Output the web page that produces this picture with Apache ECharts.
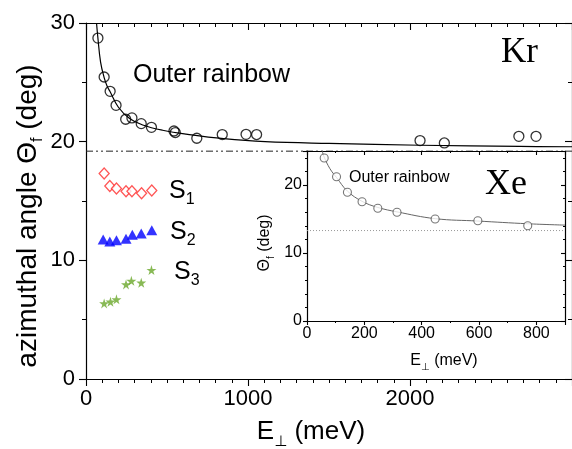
<!DOCTYPE html>
<html>
<head>
<meta charset="utf-8">
<script src="https://cdn.jsdelivr.net/npm/echarts@6/dist/echarts.min.js"></script>
<style>
  html, body { margin: 0; padding: 0; background: #fff; }
  #chart { width: 572px; height: 449px; }
</style>
</head>
<body>
<div id="chart"></div>
<script>
// Kr, outer rainbow (main panel)
var krE = [73.5, 112, 149, 185.5, 245, 283.5, 341, 404, 543, 551, 684, 841, 988, 1053, 2062, 2212, 2672, 2778];
var krTheta = [28.73, 25.45, 24.24, 23.06, 21.89, 22.0, 21.52, 21.21, 20.9, 20.77, 20.29, 20.6, 20.62, 20.6, 20.09, 19.89, 20.45, 20.45];
// fitted curve
var krFitE = [65, 73, 90, 112, 130, 149, 200, 269, 350, 473, 637, 850, 1106, 1500, 2062, 2678, 3000];
var krFitTheta = [30, 28.8, 26.7, 25.4, 24.7, 24.2, 22.9, 21.95, 21.4, 20.96, 20.6, 20.25, 20.0, 19.85, 19.7, 19.6, 19.57];
var krLimit = 19.2;

// supernumerary maxima
var s1E = [112, 147, 188, 247, 283.5, 343, 406];
var s1Theta = [17.31, 16.27, 16.05, 15.82, 15.82, 15.66, 15.88];
var s2E = [106, 147, 188, 247, 286, 341, 406];
var s2Theta = [11.76, 11.59, 11.70, 11.81, 12.15, 12.26, 12.54];
var s3E = [112, 151, 188, 247, 280, 341, 404];
var s3Theta = [6.37, 6.51, 6.71, 7.97, 8.27, 8.11, 9.18];

// Xe (inset)
var xeE = [60, 103, 141, 192, 247, 314, 447, 596, 770];
var xeTheta = [23.97, 21.22, 18.93, 17.54, 16.57, 15.99, 15.0, 14.75, 14.01];
var xeFitE = [53, 60, 80, 103, 141, 192, 247, 314, 447, 596, 770, 900];
var xeFitTheta = [25, 24.1, 22.4, 21.1, 19.1, 17.6, 16.7, 16.05, 15.05, 14.7, 14.3, 14.1];
var xeLimit = 13.3;

var mainXTicks = [0, 1000, 2000];
var mainYTicks = [0, 10, 20, 30];
var insetXTicks = [0, 200, 400, 600, 800];
var insetYTicks = [0, 10, 20];

var SANS = '"Liberation Sans", "DejaVu Sans", Arial, sans-serif';
var SERIF = '"Liberation Serif", "DejaVu Serif", serif';
var STAR = 'path://M50,0 L61,35 L98,35 L68,57 L79,91 L50,70 L21,91 L32,57 L2,35 L39,35 Z';

function pairs(xs, ys) {
    var out = [];
    for (var i = 0; i < xs.length; i++) out.push([xs[i], ys[i]]);
    return out;
}

function plain(v) { return String(v); }

function axis(opt) {
    var base = {
        type: 'value',
        splitLine: { show: false },
        axisLine: { show: true, onZero: false, lineStyle: { color: '#000', width: 1.2 } },
        axisTick: { show: true, inside: false, length: 7, lineStyle: { color: '#000', width: 1.1 } },
        minorTick: { show: true, length: 4, lineStyle: { color: '#000', width: 1 } },
        axisLabel: { color: '#000', fontFamily: SANS, formatter: plain }
    };
    return echarts.util.merge(base, opt, true);
}

// rich text with a subscript part
function subText(parts, big, small, lh) {
    return {
        a: { fontSize: big, fontFamily: SANS, lineHeight: lh },
        s: { fontSize: small, fontFamily: SANS, lineHeight: small, verticalAlign: 'bottom' }
    };
}

var chart = echarts.init(document.getElementById('chart'), null, { renderer: 'canvas' });

var option = {
    animation: false,
    backgroundColor: '#fff',
    grid: [
        { left: 86, top: 23, right: -4, bottom: 70 },
        { left: 307, top: 151, right: 7, bottom: 128, show: true, backgroundColor: '#fff', borderWidth: 0, z: 3 }
    ],
    xAxis: [
        axis({ gridIndex: 0, min: 0, max: 3000, interval: 1000, position: 'bottom',
            minorTick: { splitNumber: 10 },
            axisLabel: { fontSize: 22, margin: 9, customValues: mainXTicks } }),
        axis({ gridIndex: 0, min: 0, max: 3000, interval: 1000, position: 'top',
            axisTick: { inside: true }, minorTick: { splitNumber: 10 },
            axisLabel: { show: false } }),
        axis({ gridIndex: 1, min: 0, max: 900, interval: 200, position: 'bottom',
            axisTick: { length: 4 }, minorTick: { splitNumber: 2, length: 2 },
            axisLabel: { fontSize: 16, margin: 5, customValues: insetXTicks }, z: 4 }),
        axis({ gridIndex: 1, min: 0, max: 900, interval: 200, position: 'top',
            axisTick: { inside: true, length: 4 }, minorTick: { splitNumber: 2, length: 2 },
            axisLabel: { show: false }, z: 4 })
    ],
    yAxis: [
        axis({ gridIndex: 0, min: 0, max: 30, interval: 10, position: 'left',
            minorTick: { splitNumber: 2 },
            axisLabel: { fontSize: 22, margin: 11, customValues: mainYTicks } }),
        axis({ gridIndex: 0, min: 0, max: 30, interval: 10, position: 'right',
            axisTick: { inside: true }, minorTick: { splitNumber: 2 },
            axisLabel: { show: false } }),
        axis({ gridIndex: 1, min: 0, max: 25, interval: 10, position: 'left',
            axisTick: { length: 4 }, minorTick: { splitNumber: 5, length: 2 },
            axisLabel: { fontSize: 16, margin: 5, customValues: insetYTicks }, z: 4 }),
        axis({ gridIndex: 1, min: 0, max: 25, interval: 10, position: 'right',
            axisTick: { inside: true, length: 4 }, minorTick: { splitNumber: 5, length: 2 },
            axisLabel: { show: false }, z: 4 })
    ],
    series: [
        {
            name: 'Kr fit', type: 'line', xAxisIndex: 0, yAxisIndex: 0,
            data: pairs(krFitE, krFitTheta), smooth: 0.4, showSymbol: false,
            lineStyle: { color: '#000', width: 1.2 }, z: 2
        },
        {
            name: 'Kr', type: 'scatter', xAxisIndex: 0, yAxisIndex: 0,
            data: pairs(krE, krTheta), symbol: 'circle', symbolSize: 10,
            itemStyle: { color: 'rgba(255,255,255,0)', borderColor: '#000', borderWidth: 1.3 }, z: 3
        },
        {
            name: 'Kr limit', type: 'line', xAxisIndex: 0, yAxisIndex: 0,
            data: [[0, krLimit], [3000, krLimit]], showSymbol: false,
            lineStyle: { color: '#222', width: 1, type: [7, 3, 2, 3, 2, 3] }, z: 2
        },
        {
            name: 'S1', type: 'scatter', xAxisIndex: 0, yAxisIndex: 0,
            data: pairs(s1E, s1Theta), symbol: 'diamond', symbolSize: [10, 11],
            itemStyle: { color: '#fff', borderColor: '#ff2a2a', borderWidth: 1.3 }
        },
        {
            name: 'S2', type: 'scatter', xAxisIndex: 0, yAxisIndex: 0,
            data: pairs(s2E, s2Theta), symbol: 'triangle', symbolSize: [11, 10],
            itemStyle: { color: '#0000ff' }
        },
        {
            name: 'S3', type: 'scatter', xAxisIndex: 0, yAxisIndex: 0,
            data: pairs(s3E, s3Theta), symbol: STAR, symbolSize: 10,
            itemStyle: { color: '#6aa72a' }
        },
        {
            name: 'Xe fit', type: 'line', xAxisIndex: 2, yAxisIndex: 2,
            data: pairs(xeFitE, xeFitTheta), smooth: 0.4, showSymbol: false,
            lineStyle: { color: '#666', width: 1 }, z: 5
        },
        {
            name: 'Xe limit', type: 'line', xAxisIndex: 2, yAxisIndex: 2,
            data: [[0, xeLimit], [900, xeLimit]], showSymbol: false,
            lineStyle: { color: '#999', width: 1, type: [1, 2] }, z: 5
        },
        {
            name: 'Xe', type: 'scatter', xAxisIndex: 2, yAxisIndex: 2,
            data: pairs(xeE, xeTheta), symbol: 'circle', symbolSize: 8,
            itemStyle: { color: '#fff', borderColor: '#555', borderWidth: 1.1 }, z: 6
        }
    ],
    graphic: [
        // main axis names
        {
            type: 'text', x: 28, y: 216, rotation: Math.PI / 2, z: 10,
            style: {
                text: '{a|azimuthal angle Θ}{s|f}{a| (deg)}',
                align: 'center', verticalAlign: 'middle', fill: '#000',
                rich: subText(null, 28, 16, 36)
            }
        },
        {
            type: 'text', x: 311, y: 432, z: 10,
            style: {
                text: '{a|E}{s|⊥}{a| (meV)}',
                align: 'center', verticalAlign: 'middle', fill: '#000',
                rich: subText(null, 26, 15, 34)
            }
        },
        // inset axis names
        {
            type: 'text', x: 444, y: 361, z: 10,
            style: {
                text: '{a|E}{s|⊥}{a| (meV)}',
                align: 'center', verticalAlign: 'middle', fill: '#000',
                rich: subText(null, 16, 10, 22)
            }
        },
        {
            type: 'text', x: 265, y: 243, rotation: Math.PI / 2, z: 10,
            style: {
                text: '{a|Θ}{s|f}{a| (deg)}',
                align: 'center', verticalAlign: 'middle', fill: '#000',
                rich: subText(null, 16, 10, 22)
            }
        },
        // annotations
        {
            type: 'text', x: 133, y: 75, z: 10,
            style: { text: 'Outer rainbow', fontSize: 25, fontFamily: SANS, fill: '#000', align: 'left', verticalAlign: 'middle' }
        },
        {
            type: 'text', x: 501, y: 53, z: 10,
            style: { text: 'Kr', fontSize: 35, fontFamily: SERIF, fill: '#000', align: 'left', verticalAlign: 'middle' }
        },
        {
            type: 'text', x: 349, y: 178, z: 10,
            style: { text: 'Outer rainbow', fontSize: 16, fontFamily: SANS, fill: '#000', align: 'left', verticalAlign: 'middle' }
        },
        {
            type: 'text', x: 485, y: 185, z: 10,
            style: { text: 'Xe', fontSize: 36, fontFamily: SERIF, fill: '#000', align: 'left', verticalAlign: 'middle' }
        },
        {
            type: 'text', x: 169, y: 191, z: 10,
            style: { text: '{a|S}{s|1}', align: 'left', verticalAlign: 'middle', fill: '#000', rich: subText(null, 25, 16, 34) }
        },
        {
            type: 'text', x: 170, y: 232, z: 10,
            style: { text: '{a|S}{s|2}', align: 'left', verticalAlign: 'middle', fill: '#000', rich: subText(null, 25, 16, 34) }
        },
        {
            type: 'text', x: 174, y: 272, z: 10,
            style: { text: '{a|S}{s|3}', align: 'left', verticalAlign: 'middle', fill: '#000', rich: subText(null, 25, 16, 34) }
        }
    ]
};

chart.setOption(option);
</script>
</body>
</html>
